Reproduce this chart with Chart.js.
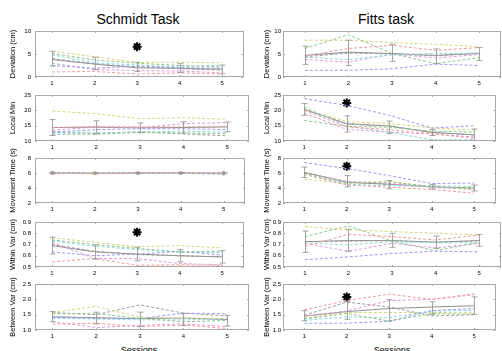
<!DOCTYPE html>
<html>
<head>
<meta charset="utf-8">
<script src="https://cdn.jsdelivr.net/npm/chart.js@4.4.0/dist/chart.umd.min.js"></script>
<style>
  body { margin: 0; width: 502px; height: 351px; overflow: hidden; position: relative; background: #fff;
         font-family: "Liberation Sans", Arial, sans-serif; }
  canvas { position: absolute; }
  .title { position: absolute; top: 11px; font-size: 14px; text-align: center; color: #000; }
  .xlab { position: absolute; top: 345px; font-size: 9px; text-align: center; color: #000; }
</style>
</head>
<body>
<div class="title" style="left:38px;width:200px">Schmidt Task</div>
<div class="title" style="left:286px;width:200px">Fitts task</div>
<div class="xlab" style="left:89px;width:100px">Sessions</div>
<div class="xlab" style="left:342px;width:100px">Sessions</div>
<script>
// sessions on the x axis
const sessions = [1, 2, 3, 4, 5];
// subject colours: red, green, blue, cyan, magenta, olive, grey
const subjectColors = ["#f29a9a", "#8cc48c", "#9a9af2", "#8cdada", "#da9ada", "#d4d47c", "#9a9a9a"];

// ---- Schmidt task ----
const schmidtDeviation = [
  [1.1, 1.2, 0.65, 0.9, 0.65],
  [5.1, 3.7, 3.0, 2.5, 2.2],
  [2.5, 1.9, 2.4, 2.0, 1.9],
  [4.8, 3.1, 2.6, 2.2, 2.6],
  [3.0, 1.6, 1.4, 1.3, 0.9],
  [5.6, 4.4, 3.2, 3.2, 3.1],
  [4.0, 2.9, 2.2, 1.8, 1.5]
];
const schmidtDeviationMean = [3.8, 2.8, 2.0, 1.9, 1.7];
const schmidtDeviationHigh = [5.6, 4.3, 3.2, 2.9, 2.6];
const schmidtDeviationLow = [2.4, 1.6, 1.2, 1.0, 0.7];

const schmidtLocalMin = [
  [14.3, 14.8, 14.6, 14.6, 14.8],
  [12.2, 12.2, 12.8, 12.6, 12.4],
  [12.9, 13.7, 14.0, 14.0, 13.7],
  [12.6, 12.6, 12.9, 13.2, 12.9],
  [13.5, 14.6, 14.3, 15.7, 16.0],
  [19.8, 18.9, 17.3, 17.6, 17.1],
  [13.0, 12.5, 13.0, 12.3, 11.7]
];
const schmidtLocalMinMean = [14.4, 14.5, 14.3, 14.4, 14.6];
const schmidtLocalMinHigh = [17.0, 16.6, 15.9, 16.3, 16.2];
const schmidtLocalMinLow = [11.8, 12.4, 12.7, 12.6, 13.0];

const schmidtMoveTime = [
  [6.0, 5.95, 6.0, 6.05, 6.05],
  [6.05, 6.0, 6.0, 6.0, 5.95],
  [6.1, 5.95, 5.95, 6.0, 6.0],
  [6.0, 6.0, 6.0, 5.95, 5.9],
  [5.95, 6.0, 6.05, 6.0, 6.1],
  [6.05, 5.9, 6.0, 6.05, 5.95],
  [5.9, 6.0, 5.95, 5.95, 5.85]
];
const schmidtMoveTimeMean = [6.0, 5.97, 5.99, 6.0, 5.97];
const schmidtMoveTimeHigh = [6.08, 6.05, 6.07, 6.08, 6.06];
const schmidtMoveTimeLow = [5.92, 5.89, 5.91, 5.92, 5.88];

const schmidtWithinVar = [
  [0.545, 0.575, 0.515, 0.52, 0.515],
  [0.74, 0.70, 0.665, 0.635, 0.64],
  [0.635, 0.6, 0.615, 0.64, 0.605],
  [0.73, 0.685, 0.655, 0.63, 0.63],
  [0.72, 0.575, 0.575, 0.53, 0.52],
  [0.76, 0.72, 0.68, 0.69, 0.67],
  [0.70, 0.64, 0.61, 0.60, 0.59]
];
const schmidtWithinVarMean = [0.69, 0.635, 0.615, 0.60, 0.59];
const schmidtWithinVarHigh = [0.765, 0.695, 0.675, 0.655, 0.645];
const schmidtWithinVarLow = [0.615, 0.57, 0.555, 0.545, 0.535];

const schmidtBetweenVar = [
  [1.19, 1.22, 1.11, 1.16, 1.05],
  [1.53, 1.53, 1.38, 1.27, 1.31],
  [1.42, 1.38, 1.37, 1.55, 1.53],
  [1.38, 1.36, 1.33, 1.33, 1.36],
  [1.27, 1.08, 1.15, 1.2, 1.11],
  [1.57, 1.77, 1.42, 1.38, 1.38],
  [1.57, 1.5, 1.82, 1.55, 1.46]
];
const schmidtBetweenVarMean = [1.43, 1.4, 1.37, 1.39, 1.34];
const schmidtBetweenVarHigh = [1.6, 1.58, 1.58, 1.53, 1.48];
const schmidtBetweenVarLow = [1.27, 1.2, 1.11, 1.15, 1.13];

// ---- Fitts task ----
const fittsDeviation = [
  [4.6, 6.2, 6.9, 5.8, 6.4],
  [6.2, 9.2, 5.1, 2.9, 4.2],
  [1.45, 1.45, 1.8, 2.8, 2.5],
  [4.3, 3.8, 4.8, 5.1, 5.2],
  [3.8, 3.2, 5.0, 4.1, 4.9],
  [8.0, 8.0, 7.5, 7.1, 6.6],
  [4.4, 5.2, 5.0, 4.6, 5.2]
];
const fittsDeviationMean = [4.7, 5.4, 5.1, 4.7, 5.1];
const fittsDeviationHigh = [6.7, 8.0, 7.1, 6.1, 6.4];
const fittsDeviationLow = [2.75, 2.5, 3.4, 2.9, 3.6];

const fittsLocalMin = [
  [20.0, 14.6, 13.7, 12.4, 10.8],
  [16.7, 14.8, 14.5, 13.2, 12.9],
  [23.8, 21.6, 18.4, 14.2, 15.0],
  [21.1, 14.8, 12.9, 10.4, 10.4],
  [19.1, 13.8, 12.9, 12.3, 11.3],
  [20.5, 16.3, 15.7, 14.3, 13.5],
  [20.3, 15.6, 14.9, 12.8, 12.0]
];
const fittsLocalMinMean = [20.3, 15.6, 14.9, 12.8, 12.0];
const fittsLocalMinHigh = [22.2, 18.2, 16.5, 13.8, 13.9];
const fittsLocalMinLow = [18.4, 12.9, 12.4, 11.8, 10.2];

const fittsMoveTime = [
  [5.8, 4.4, 4.1, 3.8, 3.3],
  [6.0, 4.7, 4.8, 4.2, 3.9],
  [7.4, 6.6, 5.65, 4.6, 4.65],
  [5.9, 4.5, 4.3, 4.3, 4.2],
  [6.0, 4.9, 4.6, 4.1, 3.8],
  [5.2, 4.6, 4.9, 4.1, 4.0],
  [6.1, 4.8, 4.5, 4.15, 4.0]
];
const fittsMoveTimeMean = [6.1, 4.75, 4.5, 4.15, 4.0];
const fittsMoveTimeHigh = [6.8, 5.65, 5.0, 4.45, 4.4];
const fittsMoveTimeLow = [5.4, 4.15, 3.9, 3.85, 3.6];

const fittsWithinVar = [
  [0.685, 0.79, 0.77, 0.74, 0.785],
  [0.77, 0.865, 0.73, 0.645, 0.72],
  [0.565, 0.59, 0.62, 0.64, 0.635],
  [0.715, 0.695, 0.725, 0.715, 0.715],
  [0.71, 0.64, 0.71, 0.67, 0.71],
  [0.86, 0.83, 0.815, 0.80, 0.785],
  [0.725, 0.73, 0.735, 0.72, 0.735]
];
const fittsWithinVarMean = [0.725, 0.735, 0.735, 0.72, 0.735];
const fittsWithinVarHigh = [0.82, 0.835, 0.80, 0.775, 0.79];
const fittsWithinVarLow = [0.63, 0.64, 0.675, 0.665, 0.685];

const fittsBetweenVar = [
  [1.66, 1.96, 2.17, 2.0, 2.18],
  [1.36, 1.54, 1.29, 1.54, 1.51],
  [1.22, 1.22, 1.29, 1.63, 1.70],
  [1.31, 1.43, 1.4, 1.62, 1.64],
  [1.45, 1.62, 1.96, 2.0, 2.15],
  [1.38, 1.57, 1.57, 1.57, 1.56],
  [1.48, 1.91, 1.75, 1.46, 1.50]
];
const fittsBetweenVarMean = [1.45, 1.6, 1.70, 1.75, 1.79];
const fittsBetweenVarHigh = [1.63, 1.92, 1.99, 1.92, 2.08];
const fittsBetweenVarLow = [1.30, 1.35, 1.29, 1.51, 1.51];

// significance asterisks: [session, value]
const schmidtDeviationStar = [3, 6.6];
const schmidtWithinVarStar = [3, 0.81];
const fittsLocalMinStar = [2, 22.4];
const fittsMoveTimeStar = [2, 6.9];
const fittsBetweenVarStar = [2, 2.08];

// y axis settings per row
const rowLabels = ["Deviation (cm)", "Local Min", "Movement Time (s)", "Within Var (cm)", "Between Var (cm)"];
const rowMin = [0, 10, 2, 0.5, 1];
const rowMax = [10, 25, 8, 0.9, 2.5];
const rowStep = [5, 5, 2, 0.1, 0.5];
const rowTop = [31, 95, 158, 222, 284];
const rowBottom = [77, 141, 203, 267, 330];

const panels = [
  { col: 0, row: 0, subj: schmidtDeviation, mean: schmidtDeviationMean, hi: schmidtDeviationHigh, lo: schmidtDeviationLow, star: schmidtDeviationStar },
  { col: 0, row: 1, subj: schmidtLocalMin, mean: schmidtLocalMinMean, hi: schmidtLocalMinHigh, lo: schmidtLocalMinLow },
  { col: 0, row: 2, subj: schmidtMoveTime, mean: schmidtMoveTimeMean, hi: schmidtMoveTimeHigh, lo: schmidtMoveTimeLow, markers: true },
  { col: 0, row: 3, subj: schmidtWithinVar, mean: schmidtWithinVarMean, hi: schmidtWithinVarHigh, lo: schmidtWithinVarLow, star: schmidtWithinVarStar },
  { col: 0, row: 4, subj: schmidtBetweenVar, mean: schmidtBetweenVarMean, hi: schmidtBetweenVarHigh, lo: schmidtBetweenVarLow },
  { col: 1, row: 0, subj: fittsDeviation, mean: fittsDeviationMean, hi: fittsDeviationHigh, lo: fittsDeviationLow },
  { col: 1, row: 1, subj: fittsLocalMin, mean: fittsLocalMinMean, hi: fittsLocalMinHigh, lo: fittsLocalMinLow, star: fittsLocalMinStar },
  { col: 1, row: 2, subj: fittsMoveTime, mean: fittsMoveTimeMean, hi: fittsMoveTimeHigh, lo: fittsMoveTimeLow, star: fittsMoveTimeStar },
  { col: 1, row: 3, subj: fittsWithinVar, mean: fittsWithinVarMean, hi: fittsWithinVarHigh, lo: fittsWithinVarLow },
  { col: 1, row: 4, subj: fittsBetweenVar, mean: fittsBetweenVarMean, hi: fittsBetweenVarHigh, lo: fittsBetweenVarLow, star: fittsBetweenVarStar }
];

const toPoints = (vals) => sessions.map((s, i) => ({ x: s, y: vals[i] }));

// extra room above and below each plot so the rotated y titles are not cut
const PAD = 22;

// matlab-ish box with inward ticks, plus the error bars of the mean line
const boxPlugin = {
  id: "box",
  afterDatasetsDraw(chart) {
    const ctx = chart.ctx;
    const a = chart.chartArea;
    const xs = chart.scales.x, ys = chart.scales.y;
    ctx.save();
    chart.data.datasets.forEach((ds) => {
      if (!ds.errHi) return;
      ctx.strokeStyle = "#8e8e8e";
      ctx.lineWidth = 0.8;
      sessions.forEach((s, i) => {
        const px = Math.round(xs.getPixelForValue(s)) + 0.5;
        const top = ys.getPixelForValue(ds.errHi[i]);
        const bot = ys.getPixelForValue(ds.errLo[i]);
        ctx.beginPath();
        ctx.moveTo(px, top); ctx.lineTo(px, bot);
        ctx.moveTo(px - 3, top); ctx.lineTo(px + 3, top);
        ctx.moveTo(px - 3, bot); ctx.lineTo(px + 3, bot);
        ctx.stroke();
      });
    });
    ctx.strokeStyle = "#a8a8a8";
    ctx.lineWidth = 1;
    ctx.strokeRect(Math.round(a.left) + 0.5, Math.round(a.top) + 0.5,
      Math.round(a.right - a.left) - 1, Math.round(a.bottom - a.top) - 1);
    ctx.beginPath();
    xs.ticks.forEach((t) => {
      const px = Math.round(xs.getPixelForValue(t.value)) + 0.5;
      ctx.moveTo(px, a.bottom); ctx.lineTo(px, a.bottom - 2);
      ctx.moveTo(px, a.top); ctx.lineTo(px, a.top + 2);
    });
    ys.ticks.forEach((t) => {
      const py = Math.round(ys.getPixelForValue(t.value)) + 0.5;
      ctx.moveTo(a.left, py); ctx.lineTo(a.left + 2, py);
      ctx.moveTo(a.right, py); ctx.lineTo(a.right - 2, py);
    });
    ctx.stroke();
    ctx.restore();
  }
};

panels.forEach((p) => {
  const colLeft = p.col ? 250 : 0;
  const colWidth = p.col ? 252 : 250;
  const areaLeft = p.col ? 283 : 35;
  const areaRight = p.col ? 501 : 249;
  const top = rowTop[p.row], bottom = rowBottom[p.row];

  const canvas = document.createElement("canvas");
  canvas.width = colWidth;
  canvas.height = bottom - top + 14 + 2 * PAD;
  canvas.style.left = colLeft + "px";
  canvas.style.top = (top - PAD) + "px";
  canvas.style.zIndex = 10 - p.row;
  document.body.appendChild(canvas);

  const datasets = p.subj.map((vals, i) => ({
    data: toPoints(vals),
    borderColor: subjectColors[i],
    backgroundColor: subjectColors[i],
    borderWidth: 1,
    borderDash: [3, 2],
    pointRadius: p.markers ? 1.2 : 0,
    pointStyle: "rect",
    tension: 0
  }));
  datasets.push({
    data: toPoints(p.mean),
    borderColor: "#8e8e8e",
    borderWidth: 1,
    pointRadius: 0,
    errHi: p.hi,
    errLo: p.lo
  });
  if (p.star) {
    datasets.push({
      type: "scatter",
      data: [{ x: p.star[0], y: p.star[1] }],
      pointStyle: "star",
      pointRadius: 4.5,
      borderColor: "#000",
      borderWidth: 2
    });
  }

  new Chart(canvas, {
    type: "line",
    data: { datasets },
    options: {
      responsive: false,
      animation: false,
      layout: { padding: { top: PAD, right: colLeft + colWidth - areaRight, left: 0, bottom: PAD } },
      plugins: { legend: { display: false }, tooltip: { enabled: false } },
      scales: {
        x: {
          type: "linear",
          min: p.col ? 0.5 : 0.6,
          max: 5.5,
          afterBuildTicks: (s) => { s.ticks = sessions.map((v) => ({ value: v })); },
          afterFit: (s) => { s.height = 14; },
          grid: { display: false, drawTicks: false },
          border: { display: false },
          ticks: { font: { size: 6, family: "Liberation Sans" }, color: "#000", padding: 3, maxRotation: 0 }
        },
        y: {
          min: rowMin[p.row],
          max: rowMax[p.row],
          afterFit: (s) => { s.width = areaLeft - colLeft; },
          grid: { display: false, drawTicks: false },
          border: { display: false },
          ticks: { stepSize: rowStep[p.row], font: { size: 6, family: "Liberation Sans" }, color: "#000", padding: p.col ? 2 : 4 },
          title: {
            display: true,
            text: rowLabels[p.row],
            color: "#000",
            font: { size: 7.5, family: "Liberation Sans" },
            padding: { top: p.col ? 12 : 8.5, bottom: 0 }
          }
        }
      }
    },
    plugins: [boxPlugin]
  });
});
</script>
</body>
</html>
